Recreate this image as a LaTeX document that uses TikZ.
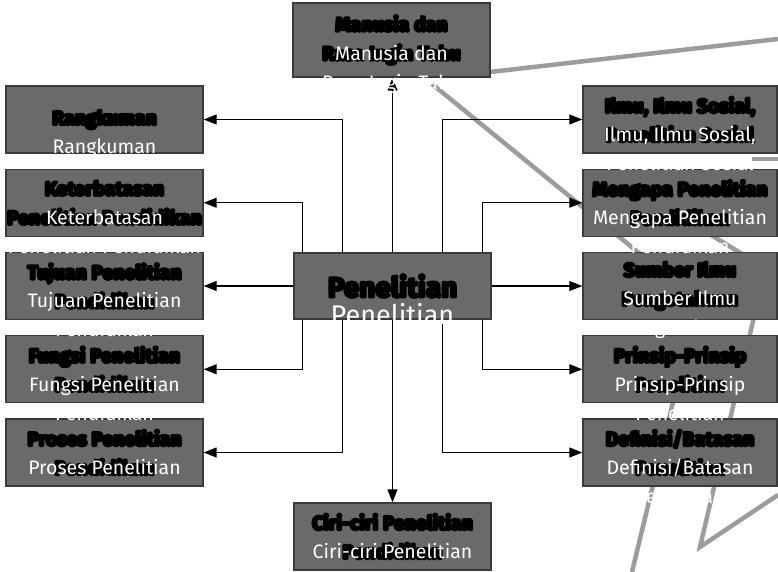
\documentclass[tikz,border=0pt]{standalone}
\usepackage{fontspec}
\usepackage{xcolor}
\usepackage{tikz}
\usetikzlibrary{arrows.meta, positioning}

\newfontfamily\putihfont{Fira Sans}
\newfontfamily\hitamfont{Fira Sans}
\definecolor{isikotak}{RGB}{106,106,109}
\definecolor{tepikotak}{RGB}{58,58,60}
\definecolor{abu}{RGB}{156,156,156}

\begin{document}
\begin{tikzpicture}[
            x=1pt, y=-1pt,                     % satuan piksel, sumbu y ke bawah
            node distance=14.85pt,
            kotak/.style={
                rectangle,
                draw=tepikotak,
                line width=1.4pt,
                fill=isikotak,
                minimum width=197pt,
                minimum height=67pt,
                inner sep=0pt,
                align=center,
                font=\hitamfont\bfseries\fontsize{19.5}{29}\selectfont,
                execute at begin node={\special{pdf:literal direct 1 j 2 Tr 2.6 w}},   % huruf hitam tebal
                execute at end node={\special{pdf:literal direct 0 Tr}}
            },
            putih/.style={
                text=white,
                inner sep=0pt,
                align=center,
                font=\putihfont\fontsize{19.5}{29}\selectfont
            },
            line/.style={
                draw,
                -{Triangle[length=13pt, width=10pt]},
                line width=1.1pt
            },
            garisabu/.style={
                draw=abu,
                line width=4.5pt
            }
        ]
            \useasboundingbox (0,0) rectangle (778,572);

            % --- GARIS ABU-ABU ---
            \path [garisabu] (490,72) -- (778,39);
            \path [garisabu] (432,84) -- (650,262);
            \path [garisabu] (752,159) -- (778,159);
            \path [garisabu] (690,222) -- (755,262);
            \path [garisabu] (758,300) -- (700,547) -- (778,495);
            \path [garisabu] (688,340) -- (632,572);

            % --- KOTAK ---
            \node [kotak, minimum height=74pt] (atas) at (391.5,40) {Manusia dan\\Rasa Ingin Tahu};
            \node [kotak, minimum height=66pt, font=\hitamfont\bfseries\fontsize{28}{30}\selectfont] (pusat) at (392.5,286) {Penelitian};
            \node [kotak] (bawah) at (392.5,536.5) {Ciri-ciri Penelitian\\Pendidikan};

            \node [kotak] (rangkuman) at (104.5,119.5) {Rangkuman};
            \node [kotak, below=of rangkuman] (keterbatasan) {Keterbatasan\\Penelitian Pendidikan};
            \node [kotak, below=of keterbatasan] (tujuan) {Tujuan Penelitian\\Pendidikan};
            \node [kotak, below=of tujuan] (fungsi) {Fungsi Penelitian\\Pendidikan};
            \node [kotak, below=of fungsi] (proses) {Proses Penelitian\\Pendidikan};

            \node [kotak, minimum width=194pt] (ilmu) at (680,119.5) {Ilmu, Ilmu Sosial,\\Penelitian Sosial};
            \node [kotak, minimum width=194pt, below=of ilmu] (mengapa) {Mengapa Penelitian\\Pendidikan};
            \node [kotak, minimum width=194pt, below=of mengapa] (sumber) {Sumber Ilmu\\Pengetahuan};
            \node [kotak, minimum width=194pt, below=of sumber] (prinsip) {Prinsip-Prinsip\\Penelitian};
            \node [kotak, minimum width=194pt, below=of prinsip] (definisi) {Definisi/Batasan\\Penelitian};

            % --- PANAH ---
            \path [line] (pusat.north) -- (pusat.north |- atas.south);
            \path [line] (pusat.south) -- (bawah.north);

            \path [line] ([xshift=-50pt]pusat.north) |- (rangkuman.east);
            \path [line] ([xshift=-90pt]pusat.north) |- (keterbatasan.east);
            \path [line] (pusat.west |- tujuan.east) -- (tujuan.east);
            \path [line] ([xshift=-90pt]pusat.south) |- (fungsi.east);
            \path [line] ([xshift=-50pt]pusat.south) |- (proses.east);

            \path [line] ([xshift=50pt]pusat.north) |- (ilmu.west);
            \path [line] ([xshift=90pt]pusat.north) |- (mengapa.west);
            \path [line] (pusat.east |- sumber.west) -- (sumber.west);
            \path [line] ([xshift=90pt]pusat.south) |- (prinsip.west);
            \path [line] ([xshift=50pt]pusat.south) |- (definisi.west);

            % --- TEKS PUTIH ---
            \node [putih] (atas-p) at ([yshift=-29pt]atas.center) {Manusia dan\\Rasa Ingin Tahu};
            \node [putih, font=\putihfont\fontsize{27}{30}\selectfont] (pusat-p) at ([yshift=-28pt]pusat.center) {Penelitian};
            \node [putih] (bawah-p) at ([yshift=-29pt]bawah.center) {Ciri-ciri Penelitian\\Pendidikan};

            \node [putih] (rangkuman-p) at ([yshift=-29pt]rangkuman.center) {Rangkuman};
            \node [putih] (keterbatasan-p) at ([yshift=-29pt]keterbatasan.center) {Keterbatasan\\Penelitian Pendidikan};
            \node [putih] (tujuan-p) at ([yshift=-29pt]tujuan.center) {Tujuan Penelitian\\Pendidikan};
            \node [putih] (fungsi-p) at ([yshift=-29pt]fungsi.center) {Fungsi Penelitian\\Pendidikan};
            \node [putih] (proses-p) at ([yshift=-29pt]proses.center) {Proses Penelitian\\Pendidikan};

            \node [putih] (ilmu-p) at ([yshift=-29pt]ilmu.center) {Ilmu, Ilmu Sosial,\\Penelitian Sosial};
            \node [putih] (mengapa-p) at ([yshift=-29pt]mengapa.center) {Mengapa Penelitian\\Pendidikan};
            \node [putih] (sumber-p) at ([yshift=-29pt]sumber.center) {Sumber Ilmu\\Pengetahuan};
            \node [putih] (prinsip-p) at ([yshift=-29pt]prinsip.center) {Prinsip-Prinsip\\Penelitian};
            \node [putih] (definisi-p) at ([yshift=-29pt]definisi.center) {Definisi/Batasan\\Penelitian};
        \end{tikzpicture}
\end{document}
